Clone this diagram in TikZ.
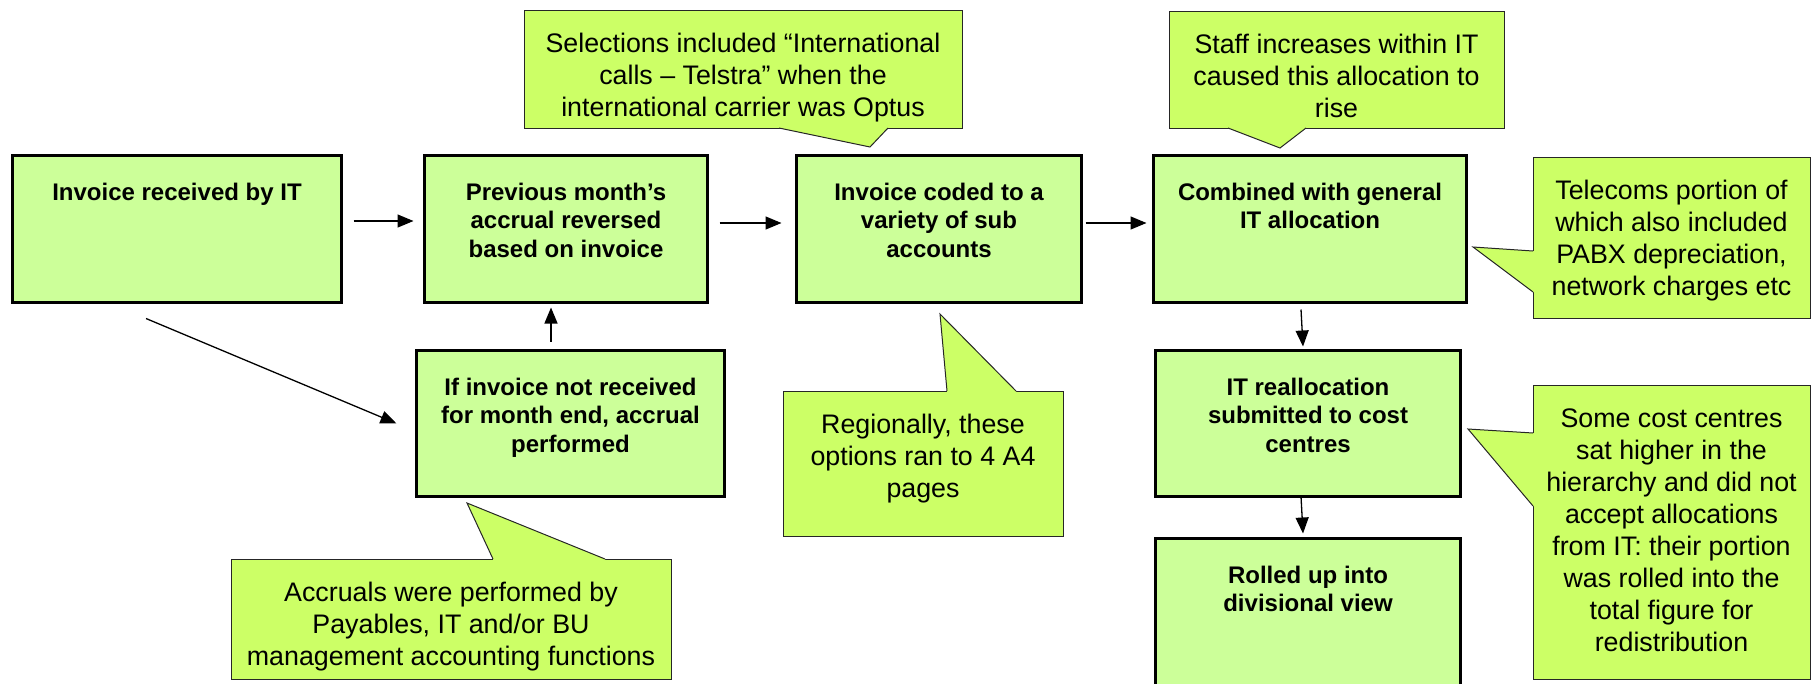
\documentclass[tikz,border=0pt]{standalone}
\usepackage{fontspec}
\setmainfont{Liberation Sans}
\usepackage{tikz}
\usetikzlibrary{positioning,arrows.meta,calc}

\definecolor{boxfill}{HTML}{CCFF99}
\definecolor{notefill}{HTML}{CCFF66}

\newcommand{\flowtext}[3]{\parbox[c][#2][t]{#1}{\centering\rule{0pt}{45pt}#3}}
\newcommand{\notetext}[3]{\parbox[c][#2][t]{#1}{\centering\rule{0pt}{42pt}#3}}

\begin{document}
\begin{tikzpicture}[x=1pt, y=-1pt,
  flowbox/.style={draw=black, line width=3pt, fill=boxfill, inner sep=0pt,
    font=\fontsize{24}{28.4}\selectfont\bfseries},
  note/.style={draw=black!85, line width=1pt, fill=notefill, inner sep=0pt,
    font=\fontsize{26.8}{32.1}\selectfont},
  noteedge/.style={draw=black!85, line width=1pt, line join=miter},
  flow/.style={draw=black, line width=1.3pt, -{Triangle[length=16pt,width=13pt]}}
]
\clip (0,0) rectangle (1811,683);

% process boxes
\node[flowbox] (invbox) at (177,229) {\flowtext{329pt}{147pt}{Invoice received by IT}};
\node[flowbox] (revbox) at (566,229) {\flowtext{283pt}{147pt}{Previous month’s\\accrual reversed\\based on invoice}};
\node[flowbox] (codebox) at (939,229) {\flowtext{285pt}{147pt}{Invoice coded to a\\variety of sub\\accounts}};
\node[flowbox] (combbox) at (1310,229) {\flowtext{313pt}{147pt}{Combined with general\\IT allocation}};
\node[flowbox] (accbox) at (570.5,423.5) {\flowtext{308pt}{146pt}{If invoice not received\\for month end, accrual\\performed}};
\node[flowbox] (reallocbox) at (1308,423.5) {\flowtext{305pt}{146pt}{IT reallocation\\submitted to cost\\centres}};
\node[flowbox] (rollbox) at (1308,612) {\flowtext{305pt}{147pt}{Rolled up into\\divisional view}};

% callouts
\node[note] (selnote) at (743,69) {\notetext{438pt}{118pt}{Selections included “International\\calls – Telstra” when the\\international carrier was Optus}};
\fill[notefill] (779,126) -- (779,128) -- (870,147) -- (888,128) -- (888,126) -- cycle;
\draw[noteedge] (779,128) -- (870,147) -- (888,128);

\node[note] (staffnote) at (1336.5,69.5) {\notetext{335pt}{117pt}{Staff increases within IT\\caused this allocation to\\rise}};
\fill[notefill] (1228,126) -- (1228,128) -- (1280,148) -- (1306,128) -- (1306,126) -- cycle;
\draw[noteedge] (1228,128) -- (1280,148) -- (1306,128);

\node[note] (regionnote) at (923,463.5) {\notetext{280pt}{145pt}{Regionally, these\\options ran to 4 A4\\pages}};
\fill[notefill] (947,393) -- (947,391) -- (940,314) -- (1016,391) -- (1016,393) -- cycle;
\draw[noteedge] (947,391) -- (940,314) -- (1016,391);

\node[note] (accrualnote) at (451,619) {\notetext{440pt}{120pt}{Accruals were performed by\\Payables, IT and/or BU\\management accounting functions}};
\fill[notefill] (493,561) -- (493,559) -- (467,503) -- (605,559) -- (605,561) -- cycle;
\draw[noteedge] (493,559) -- (467,503) -- (605,559);

\node[note] (telnote) at (1671.5,237.5) {\notetext{277pt}{161pt}{Telecoms portion of\\which also included\\PABX depreciation,\\network charges etc}};
\fill[notefill] (1535,251) -- (1533,251) -- (1473,247) -- (1533,292) -- (1535,292) -- cycle;
\draw[noteedge] (1533,251) -- (1473,247) -- (1533,292);

\node[note] (costnote) at (1671.5,532) {\notetext{277pt}{294pt}{Some cost centres\\sat higher in the\\hierarchy and did not\\accept allocations\\from IT: their portion\\was rolled into the\\total figure for\\redistribution}};
\fill[notefill] (1535,433) -- (1533,433) -- (1468,429) -- (1533,506) -- (1535,506) -- cycle;
\draw[noteedge] (1533,433) -- (1468,429) -- (1533,506);

% flow arrows
\draw[flow, shorten <=10.5pt, shorten >=9.5pt] ([yshift=8]invbox.east) -- ([yshift=8]revbox.west);
\draw[flow, shorten <=10.5pt, shorten >=13.5pt] ([yshift=6]revbox.east) -- ([yshift=6]codebox.west);
\draw[flow, shorten <=2.5pt, shorten >=5.5pt] ([yshift=6]codebox.east) -- ([yshift=6]combbox.west);
\draw[flow] ([xshift=-31,yshift=-14.5]invbox.south) -- ([xshift=-18.5]accbox.west);
\draw[flow] ([xshift=-19.5,yshift=7.5]accbox.north) -- ([xshift=-15,yshift=-3.5]revbox.south);
\draw[flow] ([xshift=-9,yshift=-5.5]combbox.south) -- ([xshift=-5,yshift=2.5]reallocbox.north);
\draw[flow] ([xshift=-7,yshift=1.5]reallocbox.south) -- ([xshift=-5,yshift=3.5]rollbox.north);

\end{tikzpicture}
\end{document}
